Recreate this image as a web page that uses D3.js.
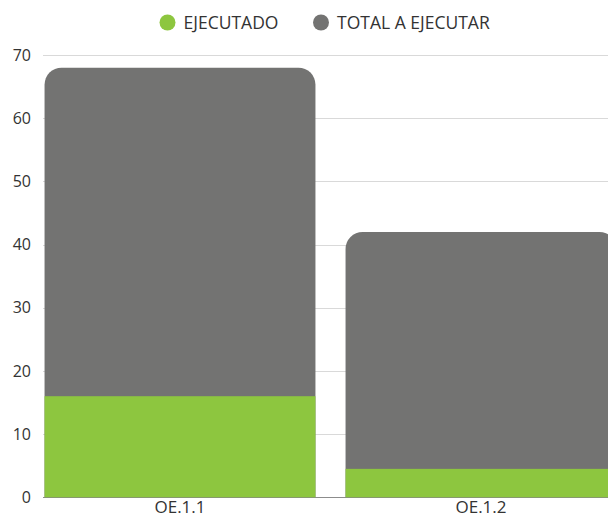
<!DOCTYPE html>
<html>
<head>
<meta charset="utf-8">
<script src="https://cdn.jsdelivr.net/npm/d3@7/dist/d3.min.js"></script>
<style>
  html, body { margin: 0; padding: 0; background: #fff; overflow: hidden; }
  svg { display: block; font-family: "Open Sans", "Noto Sans", sans-serif; }
</style>
</head>
<body>
<svg id="chart" width="608" height="523"></svg>
<script>
const categories = ["OE.1.1", "OE.1.2"];
const ejecutado = [16, 4.5];
const totalAEjecutar = [68, 42];
const yTicks = [0, 10, 20, 30, 40, 50, 60, 70];
const seriesNames = ["EJECUTADO", "TOTAL A EJECUTAR"];
const seriesColors = ["#8dc63f", "#737372"];

const svg = d3.select("#chart");
const W = 608, H = 523;

const x = d3.scaleBand().domain(categories).range([29.5, 631.5]).paddingInner(0.1).paddingOuter(0.05);
const y = d3.scaleLinear().domain([0, 70]).range([497.3, 55]);

// gridlines
svg.append("g").selectAll("line").data(yTicks.filter(d => d > 0)).join("line")
  .attr("x1", 43).attr("x2", W)
  .attr("y1", d => Math.round(y(d)) + 0.5).attr("y2", d => Math.round(y(d)) + 0.5)
  .attr("stroke", "#d9d9d9").attr("stroke-width", 1);

// y tick labels via axis
const yAxis = d3.axisLeft(y).tickValues(yTicks).tickSize(0).tickPadding(0);
const gy = svg.append("g").attr("transform", "translate(31,0)").call(yAxis);
gy.select(".domain").remove();
gy.selectAll("text").attr("font-size", 16).attr("fill", "#333").attr("font-family", "Open Sans");

// baseline
svg.append("line").attr("x1", 43).attr("x2", W)
  .attr("y1", y(0) + 0.2).attr("y2", y(0) + 0.2)
  .attr("stroke", "#8c8c8c").attr("stroke-width", 1);

// total bars with rounded top corners
function topRounded(x0, y0, w, h, r) {
  r = Math.min(r, h, w / 2);
  return `M${x0},${y0 + h}V${y0 + r}A${r},${r} 0 0 1 ${x0 + r},${y0}H${x0 + w - r}A${r},${r} 0 0 1 ${x0 + w},${y0 + r}V${y0 + h}Z`;
}
svg.append("g").selectAll("path").data(categories).join("path")
  .attr("d", (c, i) => topRounded(x(c), y(totalAEjecutar[i]), x.bandwidth(), y(0) - y(totalAEjecutar[i]), 17))
  .attr("fill", seriesColors[1]);

svg.append("g").selectAll("rect").data(categories).join("rect")
  .attr("x", c => x(c)).attr("width", x.bandwidth())
  .attr("y", (c, i) => y(ejecutado[i])).attr("height", (c, i) => y(0) - y(ejecutado[i]))
  .attr("fill", seriesColors[0]);

// x axis labels
const xAxis = d3.axisBottom(x).tickSize(0).tickPadding(0);
const gx = svg.append("g").attr("transform", `translate(0,${y(0) + 4})`).call(xAxis);
gx.select(".domain").remove();
gx.selectAll("text").attr("font-size", 17).attr("fill", "#333").attr("font-family", "Open Sans");

// legend
const legendX = [167.5, 321];
const lg = svg.append("g");
seriesNames.forEach((n, i) => {
  lg.append("circle").attr("cx", legendX[i]).attr("cy", 22.5).attr("r", 8).attr("fill", seriesColors[i]);
  lg.append("text").attr("x", legendX[i] + 16).attr("y", 22.5).attr("dy", "0.35em")
    .attr("font-size", 17.5).attr("fill", "#333").text(n);
});
</script>
</body>
</html>
